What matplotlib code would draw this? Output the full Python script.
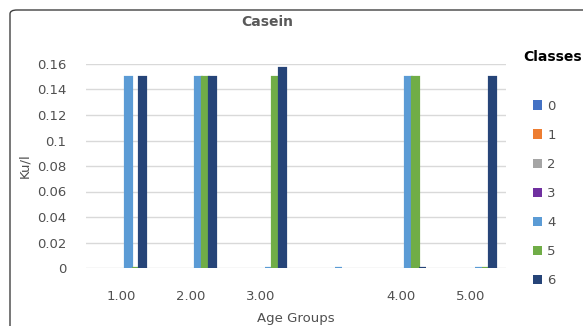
import numpy as np
import matplotlib
matplotlib.use("Agg")
import matplotlib.pyplot as plt
from matplotlib.patches import FancyBboxPatch, Patch

nan = np.nan
categories = ["1.00", "2.00", "3.00", "", "4.00", "5.00"]
classes = ["0", "1", "2", "3", "4", "5", "6"]
# values per class for each age group; nan = no bar
values = {
    "0": [nan, nan, nan, nan, nan, nan],
    "1": [nan, nan, nan, nan, nan, nan],
    "2": [nan, nan, nan, nan, nan, nan],
    "3": [nan, nan, nan, nan, nan, nan],
    "4": [0.15, 0.15, 0.0, 0.0, 0.15, 0.0],
    "5": [0.0, 0.15, 0.15, nan, 0.15, 0.0],
    "6": [0.15, 0.15, 0.157, nan, 0.0, 0.15],
}
colors = ["#4472C4", "#ED7D31", "#A5A5A5", "#7030A0", "#5B9BD5", "#70AD47", "#264478"]

W, H = 583, 326
fig = plt.figure(figsize=(W / 100, H / 100), dpi=100)
ax = fig.add_axes([86 / W, (H - 268) / H, (506 - 86) / W, (268 - 64) / H])

x = np.arange(len(categories))
bw = 0.1
for i, c in enumerate(classes):
    offs = (i - 3) * bw
    ax.bar(x + offs, values[c], width=bw, color=colors[i], edgecolor=colors[i],
           linewidth=1.6, zorder=3)

ax.set_xlim(-0.5, len(categories) - 0.5)
ax.set_ylim(0, 0.16)
yt = np.arange(0, 0.161, 0.02)
ax.set_yticks(yt)
ax.set_yticklabels(["0"] + [f"{v:g}" for v in yt[1:]])
ax.set_xticks(x)
ax.set_xticklabels(categories)
ax.tick_params(axis="both", length=0, labelsize=9.5, colors="#505050")
ax.tick_params(axis="x", pad=16)
ax.tick_params(axis="y", pad=14)
ax.grid(axis="y", color="#D9D9D9", linewidth=1, zorder=0)
for s in ax.spines.values():
    s.set_visible(False)

ax.set_ylabel("Ku/l", fontsize=9.5, color="#505050", labelpad=4)
ax.set_xlabel("Age Groups", fontsize=9.5, color="#505050", labelpad=6)

fig.text(267 / W, 1 - 22 / H, "Casein", ha="center", va="center",
         fontsize=10, fontweight="bold", color="#595959")
fig.text(553 / W, 1 - 57 / H, "Classes", ha="center", va="center",
         fontsize=10, fontweight="bold", color="black")

handles = [Patch(facecolor=colors[i], edgecolor="none") for i in range(len(classes))]
fig.legend(handles, classes, loc="upper left", bbox_to_anchor=(526 / W, 1 - 93 / H),
           frameon=False, fontsize=9.5, labelcolor="#505050", handlelength=0.7,
           handleheight=0.7, handletextpad=0.4, labelspacing=1.22, borderpad=0)

border = FancyBboxPatch((10 / W, -0.1), 1.2, 1 - 10 / H + 0.1,
                        boxstyle="round,pad=0,rounding_size=0.012",
                        transform=fig.transFigure, facecolor="none",
                        edgecolor="#404040", linewidth=1.0, clip_on=False)
fig.patches.append(border)

fig.savefig("out.png", dpi=100)
